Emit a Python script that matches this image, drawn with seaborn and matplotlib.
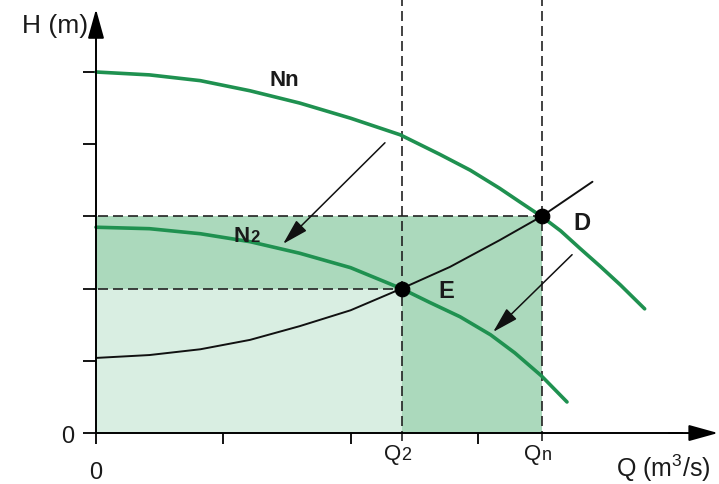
import matplotlib
matplotlib.use("Agg")
import matplotlib.pyplot as plt
import seaborn as sns

# Pump characteristic at nominal speed Nn: flow Q, head H
nn_q = [0.0, 0.42, 0.82, 1.21, 1.60, 2.00, 2.39, 2.70, 2.94, 3.17, 3.33,
        3.50, 3.65, 3.80, 3.96, 4.12, 4.31]
nn_h = [5.00, 4.96, 4.88, 4.74, 4.57, 4.36, 4.13, 3.86, 3.64, 3.39, 3.20,
        3.00, 2.80, 2.56, 2.31, 2.05, 1.72]

# Pump characteristic at reduced speed N2
n2_q = [0.0, 0.42, 0.82, 1.21, 1.60, 2.00, 2.40, 2.62, 2.86, 3.10, 3.29,
        3.50, 3.70]
n2_h = [2.85, 2.83, 2.76, 2.65, 2.49, 2.29, 2.00, 1.81, 1.61, 1.36, 1.11,
        0.79, 0.43]

# System (pipe network) curve
sys_q = [0.0, 0.42, 0.82, 1.21, 1.60, 2.00, 2.40, 2.78, 3.17, 3.50, 3.90]
sys_h = [1.04, 1.08, 1.16, 1.29, 1.48, 1.70, 2.00, 2.30, 2.67, 3.00, 3.48]

# Operating points
point_names = ["D", "E"]
point_q = [3.50, 2.40]
point_h = [3.00, 2.00]

x_ticks = [0, 1, 2, 3]
y_ticks = [0, 1, 2, 3, 4, 5]

sns.set_style("white")
plt.rcParams["font.family"] = ["Liberation Sans", "DejaVu Sans"]
plt.rcParams["mathtext.fontset"] = "custom"
plt.rcParams["mathtext.rm"] = "Liberation Sans"
plt.rcParams["mathtext.it"] = "Liberation Sans"
plt.rcParams["mathtext.default"] = "rm"

GREEN = "#1f9150"
LIGHT = "#d9eee2"
MEDIUM = "#abd9bc"
INK = "#1a1a1a"

fig = plt.figure(figsize=(7.19, 4.85), dpi=100)
ax = fig.add_axes([0, 0, 1, 1])
ax.set_xlim(-0.754, 4.894)
ax.set_ylim(-0.706, 6.011)
ax.set_facecolor("white")

qd, hd = point_q[0], point_h[0]
qe, he = point_q[1], point_h[1]

# Shaded power areas
ax.fill_between([0, qd], [0, 0], [hd, hd], color=MEDIUM, lw=0, zorder=1)
ax.fill_between([0, qe], [0, 0], [he, he], color=LIGHT, lw=0, zorder=1.1)

# Dashed guide lines
dash = dict(color="#222222", lw=1.2, ls=(0, (6, 3)), zorder=2)
ax.plot([-0.10, qd], [hd, hd], **dash)
ax.plot([-0.10, qe], [he, he], **dash)
ax.plot([qe, qe], [-0.11, 6.02], **dash)
ax.plot([qd, qd], [-0.11, 6.02], **dash)

# Curves
line_kw = dict(sort=False, estimator=None, zorder=3)
sns.lineplot(x=nn_q, y=nn_h, ax=ax, color=GREEN, lw=2.6, **line_kw)
sns.lineplot(x=n2_q, y=n2_h, ax=ax, color=GREEN, lw=2.6, **line_kw)
sns.lineplot(x=sys_q, y=sys_h, ax=ax, color="#111111", lw=1.4, **line_kw)
sns.scatterplot(x=point_q, y=point_h, ax=ax, color="black", s=110,
                edgecolor="black", zorder=5)
for ln in ax.lines:
    ln.set_solid_joinstyle("round")
    ln.set_solid_capstyle("round")

# Axes through the origin
for side in ("top", "right"):
    ax.spines[side].set_visible(False)
ax.spines["left"].set_position(("data", 0))
ax.spines["bottom"].set_position(("data", 0))
ax.spines["left"].set_bounds(0, 5.6)
ax.spines["bottom"].set_bounds(0, 4.6)
for side in ("left", "bottom"):
    ax.spines[side].set_color("black")
    ax.spines[side].set_linewidth(1.4)
    ax.spines[side].set_zorder(4)

ax.set_xticks(x_ticks, ["0", "", "", ""])
ax.set_yticks(y_ticks, ["0", "", "", "", "", ""])
ax.tick_params(axis="x", direction="out", length=8, width=1.3, pad=12,
               labelsize=17, colors="black", labelcolor=INK)
ax.tick_params(axis="y", direction="out", length=9.5, width=1.3, pad=6,
               labelsize=17, colors="black", labelcolor=INK)
ax.tick_params(axis="both", which="both", bottom=True, left=True)

arrow_axis = dict(arrowstyle="-|>,head_length=1.8,head_width=0.5",
                  mutation_scale=10, lw=1.4, color="black",
                  shrinkA=0, shrinkB=0)
ax.annotate("", xy=(4.886, 0), xytext=(4.5, 0), arrowprops=arrow_axis, zorder=4)
ax.annotate("", xy=(0, 5.87), xytext=(0, 5.5), arrowprops=arrow_axis, zorder=4)

# Speed-change arrows
arrow_thin = dict(arrowstyle="-|>,head_length=1.6,head_width=0.45",
                  mutation_scale=10, lw=1.1, color="#111111",
                  shrinkA=0, shrinkB=0)
ax.annotate("", xy=(1.47, 2.62), xytext=(2.27, 4.02), arrowprops=arrow_thin, zorder=4)
ax.annotate("", xy=(3.12, 1.40), xytext=(3.74, 2.47), arrowprops=arrow_thin, zorder=4)

# Axis titles
ax.text(-0.063, 5.55, "H (m)", ha="right", va="baseline", fontsize=19, color=INK)
ax.text(4.83, -0.59, r"Q (m$^{3}$/s)", ha="right", va="baseline", fontsize=18,
        color=INK)

# Flow labels under the axis
ax.text(qe, -0.36, "Q", ha="right", va="baseline", fontsize=16, color=INK)
ax.text(qe, -0.36, "2", ha="left", va="baseline", fontsize=13, color=INK)
ax.text(qd, -0.36, "Q", ha="right", va="baseline", fontsize=16, color=INK)
ax.text(qd, -0.36, "n", ha="left", va="baseline", fontsize=13, color=INK)

# Curve and point labels
ax.text(1.477, 4.89, "Nn", ha="center", va="center", fontsize=16,
        fontweight="bold", color=INK)
ax.text(1.21, 2.66, "N", ha="right", va="baseline", fontsize=16,
        fontweight="bold", color=INK)
ax.text(1.21, 2.66, "2", ha="left", va="baseline", fontsize=12,
        fontweight="bold", color=INK)
ax.text(3.82, 2.91, point_names[0], ha="center", va="center", fontsize=17,
        fontweight="bold", color=INK)
ax.text(2.75, 1.98, point_names[1], ha="center", va="center", fontsize=17,
        fontweight="bold", color=INK)

ax.set_xlabel("")
ax.set_ylabel("")
fig.savefig("out.png", dpi=100)
